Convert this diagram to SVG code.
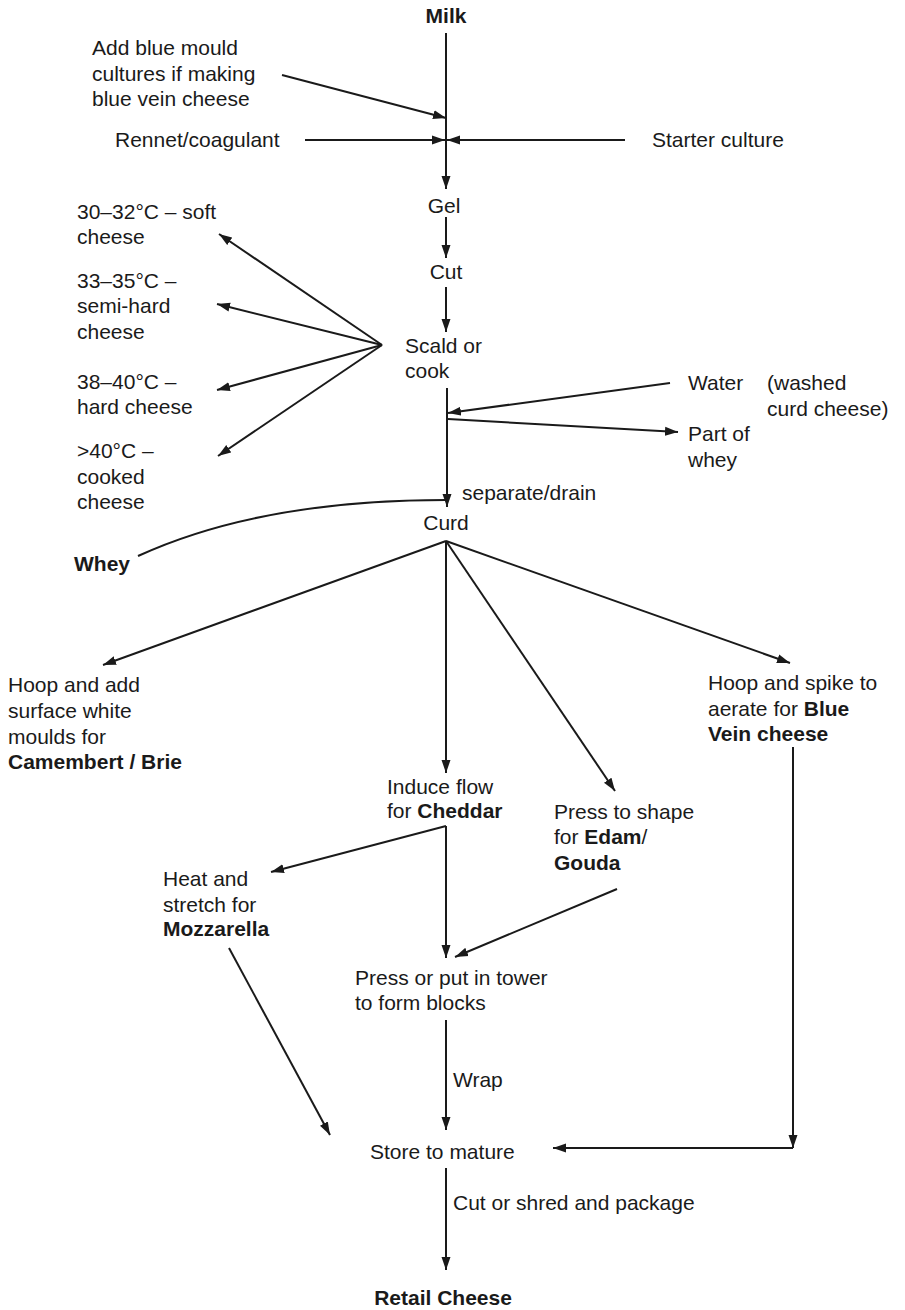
<svg xmlns="http://www.w3.org/2000/svg" width="905" height="1310" viewBox="0 0 905 1310">
<style>
text{font-family:"Liberation Sans",Arial,sans-serif;font-size:21px;fill:#1a1a1a}
.b{font-weight:bold}
.c{text-anchor:middle}
.ln{fill:none;stroke:#1a1a1a;stroke-width:2}
.ar{marker-end:url(#ah)}
</style>
<defs>
<marker id="ah" markerUnits="userSpaceOnUse" markerWidth="14" markerHeight="10" refX="13" refY="5" orient="auto">
<path d="M0,0.5 L13,5 L0,9.5 z" fill="#1a1a1a"/>
</marker>
</defs>
<rect width="905" height="1310" fill="#fff"/>
<g id="connectors">
<path class="ln ar" d="M446,33 V189"/>
<path class="ln ar" d="M282,75 L446,118"/>
<path class="ln ar" d="M305,140 L445,140"/>
<path class="ln ar" d="M625,140 L447,140"/>
<path class="ln ar" d="M446,217 V258"/>
<path class="ln ar" d="M446,287 V332"/>
<path class="ln ar" d="M382,345 L219,234"/>
<path class="ln ar" d="M382,345 L217,304"/>
<path class="ln ar" d="M382,345 L217,390"/>
<path class="ln ar" d="M382,345 L218,456"/>
<path class="ln ar" d="M447,388 V507"/>
<path class="ln ar" d="M670,383 L448,413"/>
<path class="ln ar" d="M448,419 L678,432"/>
<path class="ln" d="M138,556 Q260,500 446,500"/>
<path class="ln ar" d="M446,541 L103,665"/>
<path class="ln ar" d="M446,541 V773"/>
<path class="ln ar" d="M446,541 L615,791"/>
<path class="ln ar" d="M446,541 L790,663"/>
<path class="ln ar" d="M446,826 V958"/>
<path class="ln ar" d="M446,826 L271,872"/>
<path class="ln ar" d="M617,889 L455,957"/>
<path class="ln ar" d="M229,948 L330,1135"/>
<path class="ln ar" d="M446,1020 V1130"/>
<path class="ln ar" d="M793,747 V1148"/>
<path class="ln ar" d="M793,1148 H553"/>
<path class="ln ar" d="M446,1168 V1270"/>
</g>
<g id="milk"><text class="b c" x="446" y="23">Milk</text></g>
<g id="blue-mould"><text x="92" y="55">Add blue mould</text><text x="92" y="81">cultures if making</text><text x="92" y="106">blue vein cheese</text></g>
<g id="rennet"><text x="115" y="147">Rennet/coagulant</text></g>
<g id="starter"><text x="652" y="147">Starter culture</text></g>
<g id="gel"><text class="c" x="444" y="213">Gel</text></g>
<g id="cut"><text class="c" x="446" y="279">Cut</text></g>
<g id="scald"><text x="405" y="353">Scald or</text><text x="405" y="378">cook</text></g>
<g id="soft"><text x="77" y="219">30–32°C – soft</text><text x="77" y="244">cheese</text></g>
<g id="semi-hard"><text x="77" y="288">33–35°C –</text><text x="77" y="313">semi-hard</text><text x="77" y="339">cheese</text></g>
<g id="hard"><text x="77" y="389">38–40°C –</text><text x="77" y="414">hard cheese</text></g>
<g id="cooked"><text x="77" y="458">&gt;40°C –</text><text x="77" y="484">cooked</text><text x="77" y="509">cheese</text></g>
<g id="water"><text x="688" y="390">Water</text></g>
<g id="washed"><text x="767" y="390">(washed</text><text x="767" y="416">curd cheese)</text></g>
<g id="part-whey"><text x="688" y="441">Part of</text><text x="688" y="467">whey</text></g>
<g id="separate"><text x="462" y="500">separate/drain</text></g>
<g id="curd"><text class="c" x="446" y="530">Curd</text></g>
<g id="whey"><text class="b" x="74" y="571">Whey</text></g>
<g id="camembert"><text x="8" y="692">Hoop and add</text><text x="8" y="718">surface white</text><text x="8" y="744">moulds for</text><text class="b" x="8" y="769">Camembert / Brie</text></g>
<g id="bluevein"><text x="708" y="690">Hoop and spike to</text><text x="708" y="716">aerate for <tspan class="b">Blue</tspan></text><text class="b" x="708" y="741">Vein cheese</text></g>
<g id="cheddar"><text x="387" y="794">Induce flow</text><text x="387" y="818">for <tspan class="b">Cheddar</tspan></text></g>
<g id="edam"><text x="554" y="819">Press to shape</text><text x="554" y="844">for <tspan class="b">Edam</tspan>/</text><text class="b" x="554" y="870">Gouda</text></g>
<g id="mozzarella"><text x="163" y="886">Heat and</text><text x="163" y="912">stretch for</text><text class="b" x="163" y="936">Mozzarella</text></g>
<g id="press"><text x="355" y="985">Press or put in tower</text><text x="355" y="1010">to form blocks</text></g>
<g id="wrap"><text x="453" y="1087">Wrap</text></g>
<g id="store"><text x="370" y="1159">Store to mature</text></g>
<g id="package"><text x="453" y="1210">Cut or shred and package</text></g>
<g id="retail"><text class="b c" x="443" y="1305">Retail Cheese</text></g>
</svg>
